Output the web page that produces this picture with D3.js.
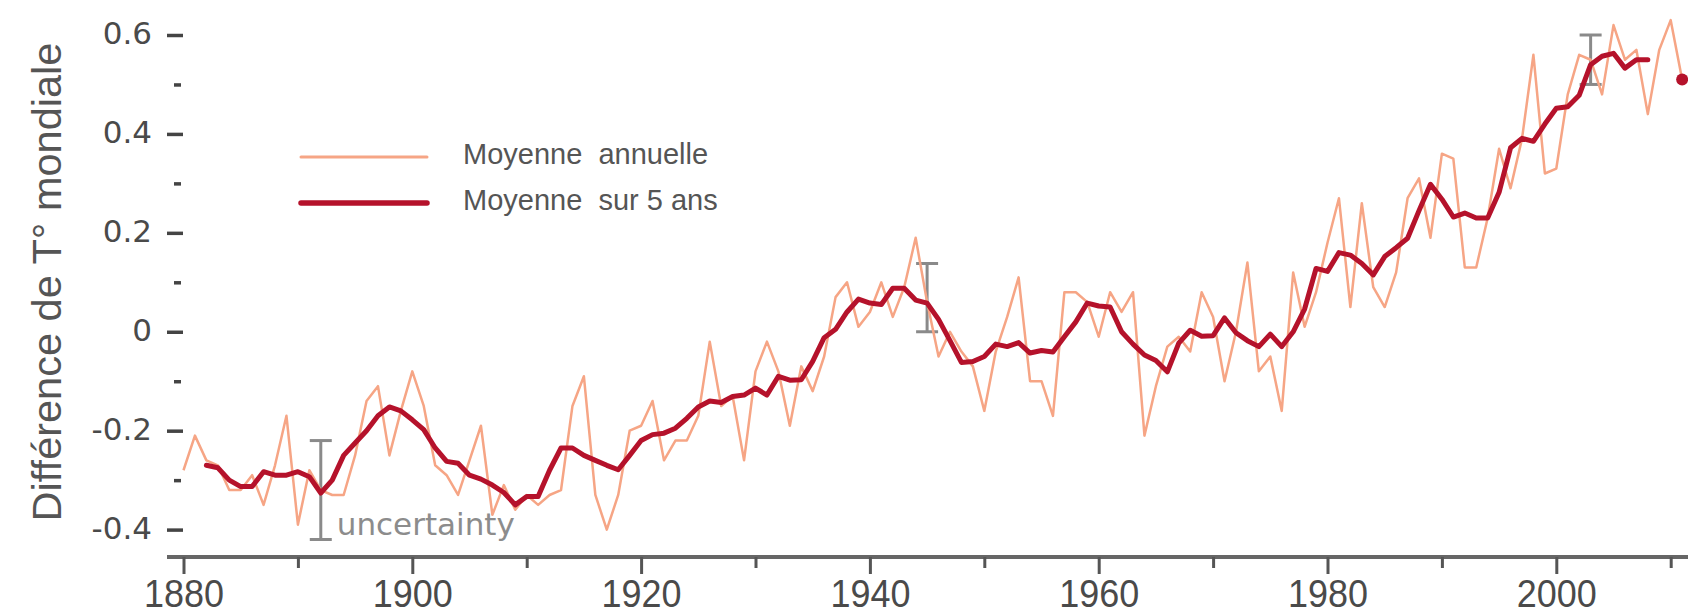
<!DOCTYPE html>
<html><head><meta charset="utf-8">
<script src="https://cdn.jsdelivr.net/npm/d3@7"></script>
<style>html,body{margin:0;padding:0;background:#fff;overflow:hidden}</style>
</head><body><svg id="c" width="1688" height="616"></svg>
<script>
// ---- data ----
const annualStart = 1880;
const annualValues = [
 -0.28,-0.21,-0.26,-0.27,-0.32,-0.32,-0.29,-0.35,-0.27,-0.17,
 -0.39,-0.28,-0.32,-0.33,-0.33,-0.25,-0.14,-0.11,-0.25,-0.16,
 -0.08,-0.15,-0.27,-0.29,-0.33,-0.26,-0.19,-0.37,-0.31,-0.36,
 -0.33,-0.35,-0.33,-0.32,-0.15,-0.09,-0.33,-0.40,-0.33,-0.20,
 -0.19,-0.14,-0.26,-0.22,-0.22,-0.17,-0.02,-0.15,-0.13,-0.26,
 -0.08,-0.02,-0.08,-0.19,-0.07,-0.12,-0.05, 0.07, 0.10, 0.01,
  0.04, 0.10, 0.03, 0.09, 0.19, 0.06,-0.05, 0.00,-0.04,-0.07,
 -0.16,-0.04, 0.03, 0.11,-0.10,-0.10,-0.17, 0.08, 0.08, 0.06,
 -0.01, 0.08, 0.04, 0.08,-0.21,-0.11,-0.03,-0.01,-0.04, 0.08,
  0.03,-0.10, 0.00, 0.14,-0.08,-0.05,-0.16, 0.12, 0.01, 0.08,
  0.18, 0.27, 0.05, 0.26, 0.09, 0.05, 0.12, 0.27, 0.31, 0.19,
  0.36, 0.35, 0.13, 0.13, 0.23, 0.37, 0.29, 0.39, 0.56, 0.32,
  0.33, 0.48, 0.56, 0.55, 0.48, 0.62, 0.55, 0.57, 0.44, 0.57,
  0.63, 0.51
];
const fiveYearStart = 1882;
const fiveYearValues = [
 -0.27,-0.275,-0.30,-0.313,-0.313,-0.283,-0.29,-0.29,
 -0.283,-0.293,-0.326,-0.30,-0.25,-0.225,-0.20,-0.17,-0.152,-0.16,
 -0.178,-0.198,-0.235,-0.262,-0.266,-0.29,-0.298,-0.31,-0.325,-0.35,
 -0.333,-0.333,-0.28,-0.235,-0.235,-0.25,-0.26,-0.27,-0.279,-0.25,
 -0.22,-0.208,-0.205,-0.195,-0.175,-0.152,-0.14,-0.143,-0.131,-0.128,
 -0.114,-0.128,-0.09,-0.098,-0.097,-0.06,-0.012,0.005,0.04,0.066,
  0.058,0.055,0.088,0.088,0.064,0.058,0.025,-0.018,-0.062,-0.06,
 -0.05,-0.025,-0.03,-0.022,-0.043,-0.038,-0.041,-0.01,0.02,0.058,
  0.052,0.05,0.0,-0.025,-0.047,-0.058,-0.081,-0.023,0.003,-0.009,
 -0.008,0.028,-0.002,-0.018,-0.03,-0.005,-0.03,0.0,0.046,0.128,
  0.122,0.16,0.155,0.138,0.115,0.152,0.17,0.189,0.245,0.298,
  0.268,0.232,0.24,0.23,0.23,0.282,0.372,0.391,0.385,0.42,
  0.452,0.455,0.478,0.54,0.557,0.563,0.533,0.55,0.55
];
const partialYear = 2011;
const partialValue = 0.51;
const uncertaintyYears = [1892, 1945, 2003];
const uncertaintyLow = [-0.42, 0.0, 0.5];
const uncertaintyHigh = [-0.22, 0.138, 0.60];
const yMajorTicks = [0.6, 0.4, 0.2, 0, -0.2, -0.4];
const yTickLabels = ["0.6", "0.4", "0.2", "0", "-0.2", "-0.4"];
const yMinorTicks = [0.5, 0.3, 0.1, -0.1, -0.3];
const xMajorTicks = [1880, 1900, 1920, 1940, 1960, 1980, 2000];
const xTickLabels = ["1880", "1900", "1920", "1940", "1960", "1980", "2000"];
const xMinorTicks = [1890, 1910, 1930, 1950, 1970, 1990, 2010];
const seriesNames = ["Moyenne\u00a0 annuelle", "Moyenne\u00a0 sur 5 ans"];
const yTitle = "Différence de T° mondiale";
const noteText = "uncertainty";

// ---- chart ----
const svg = d3.select("#c");
const x = d3.scaleLinear().domain([1880, 2010]).range([183.5, 1670.7]);
const y = d3.scaleLinear().domain([-0.4, 0.6]).range([529.6, 35]);

const annual = annualValues.map((v, i) => ({year: annualStart + i, v}));
const fiveYear = fiveYearValues.map((v, i) => ({year: fiveYearStart + i, v}));

const cAnnual = "#f6a585", cFive = "#b5122b", cGray = "#8a8a8a", cText = "#4a4a4a";

// y title
svg.append("text")
  .attr("transform", "translate(61,282) rotate(-90)")
  .attr("text-anchor", "middle")
  .attr("font-family", "'Liberation Sans', Arial, sans-serif")
  .attr("font-size", 41.5).attr("fill", "#555")
  .text(yTitle);

// y axis
const yAxis = svg.append("g").attr("transform", "translate(183,0)")
  .call(d3.axisLeft(y).tickValues(yMajorTicks).tickSize(16).tickPadding(15)
        .tickFormat((d, i) => yTickLabels[i]));
yAxis.select(".domain").remove();
yAxis.selectAll("line").attr("stroke", "#444").attr("stroke-width", 3.5);
yAxis.selectAll("text").attr("font-family", "'DejaVu Sans', Verdana, sans-serif")
  .attr("font-size", 31).attr("fill", cText).attr("dy", "0.28em");
const yMinor = svg.append("g").attr("transform", "translate(181,0)")
  .call(d3.axisLeft(y).tickValues(yMinorTicks).tickSize(7).tickFormat(""));
yMinor.select(".domain").remove();
yMinor.selectAll("line").attr("stroke", "#444").attr("stroke-width", 3.5);

// x axis
svg.append("line").attr("x1", 167).attr("x2", 1688).attr("y1", 557).attr("y2", 557)
  .attr("stroke", "#666").attr("stroke-width", 4);
const xAxis = svg.append("g").attr("transform", "translate(0,557)")
  .call(d3.axisBottom(x).tickValues(xMajorTicks).tickSize(17).tickPadding(6)
        .tickFormat((d, i) => xTickLabels[i]));
xAxis.select(".domain").remove();
xAxis.selectAll("line").attr("stroke", "#555").attr("stroke-width", 3);
xAxis.selectAll("text").attr("font-family", "'Liberation Sans Narrow', 'Liberation Sans', Arial, sans-serif")
  .attr("font-size", 38).attr("fill", cText)
  .attr("textLength", 80).attr("lengthAdjust", "spacingAndGlyphs");
const xMinor = svg.append("g").attr("transform", "translate(0,557)")
  .call(d3.axisBottom(x).tickValues(xMinorTicks).tickSize(11).tickFormat(""));
xMinor.select(".domain").remove();
xMinor.selectAll("line").attr("stroke", "#555").attr("stroke-width", 3);

// uncertainty bars
const bars = svg.append("g").attr("stroke", cGray).attr("stroke-width", 3).attr("fill", "none");
uncertaintyYears.forEach((yr, i) => {
  const cx = x(yr);
  bars.append("line").attr("x1", cx).attr("x2", cx).attr("y1", y(uncertaintyHigh[i])).attr("y2", y(uncertaintyLow[i]));
  bars.append("line").attr("x1", cx - 11).attr("x2", cx + 11).attr("y1", y(uncertaintyHigh[i])).attr("y2", y(uncertaintyHigh[i]));
  bars.append("line").attr("x1", cx - 11).attr("x2", cx + 11).attr("y1", y(uncertaintyLow[i])).attr("y2", y(uncertaintyLow[i]));
});
svg.append("text").attr("x", x(uncertaintyYears[0]) + 16).attr("y", 535)
  .attr("font-family", "'DejaVu Sans', Verdana, sans-serif").attr("font-size", 31)
  .attr("fill", "#8c8c8c").text(noteText);

// lines
const line = d3.line().x(d => x(d.year)).y(d => y(d.v));
svg.append("path").datum(annual).attr("d", line).attr("fill", "none")
  .attr("stroke", cAnnual).attr("stroke-width", 2.5).attr("stroke-linejoin", "round");
svg.append("path").datum(fiveYear).attr("d", line).attr("fill", "none")
  .attr("stroke", cFive).attr("stroke-width", 5).attr("stroke-linejoin", "round").attr("stroke-linecap", "round");
svg.append("circle").attr("cx", x(partialYear)).attr("cy", y(partialValue)).attr("r", 6).attr("fill", cFive);

// legend
const leg = svg.append("g");
const legColors = [cAnnual, cFive], legWidths = [3, 5.5], legY = [157, 203];
seriesNames.forEach((name, i) => {
  leg.append("line").attr("x1", 301).attr("x2", 427).attr("y1", legY[i]).attr("y2", legY[i])
    .attr("stroke", legColors[i]).attr("stroke-width", legWidths[i]).attr("stroke-linecap", "round");
  leg.append("text").attr("x", 463).attr("y", legY[i] + 7)
    .attr("font-family", "'Liberation Sans', Arial, sans-serif").attr("font-size", 29)
    .attr("fill", "#555").text(name);
});
</script></body></html>
